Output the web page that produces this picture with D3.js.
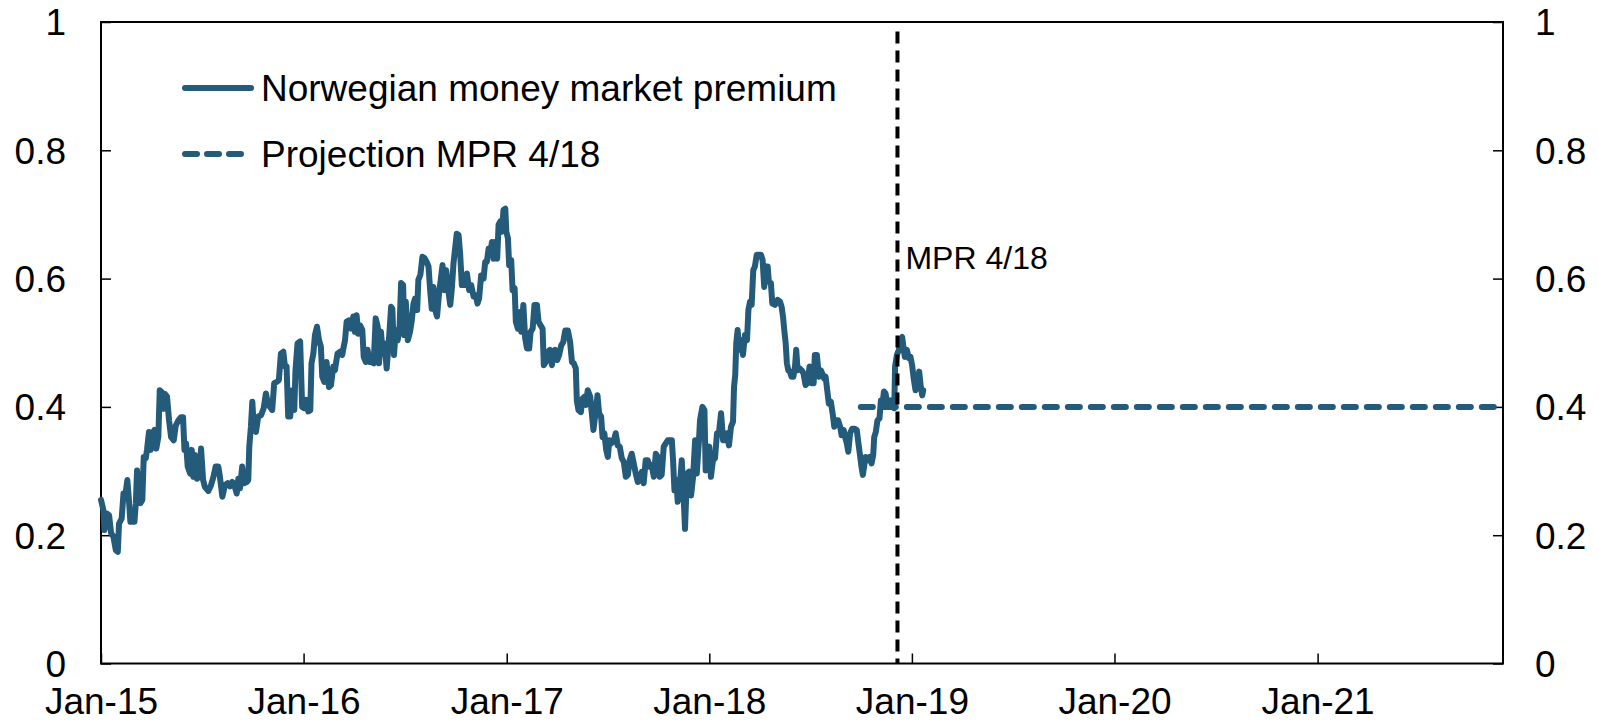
<!DOCTYPE html>
<html>
<head>
<meta charset="utf-8">
<script src="https://cdn.jsdelivr.net/npm/d3@7"></script>
<style>
  html, body { margin: 0; padding: 0; background: #fff; }
  svg { display: block; font-family: "Liberation Sans", Arial, sans-serif; }
</style>
</head>
<body>
<svg id="chart"></svg>
<script>
// Norwegian money market premium as [decimal year, value]
const premium = [
  [2015.000,.255],[2015.012,.239],[2015.017,.208],[2015.028,.234],[2015.040,.231],[2015.050,.203],[2015.061,.198],[2015.073,.177],[2015.083,.174],[2015.089,.218],
  [2015.102,.226],[2015.111,.265],[2015.119,.260],[2015.130,.286],[2015.139,.250],[2015.145,.221],[2015.155,.221],[2015.165,.221],[2015.172,.250],[2015.178,.301],
  [2015.188,.260],[2015.195,.250],[2015.204,.255],[2015.211,.322],[2015.221,.320],[2015.227,.333],[2015.237,.361],[2015.245,.333],[2015.254,.358],[2015.264,.364],
  [2015.273,.335],[2015.283,.353],[2015.290,.426],[2015.300,.423],[2015.308,.397],[2015.316,.420],[2015.326,.416],[2015.336,.379],[2015.346,.353],[2015.359,.348],
  [2015.369,.371],[2015.382,.379],[2015.395,.384],[2015.405,.384],[2015.412,.333],[2015.420,.343],[2015.428,.307],[2015.440,.296],[2015.448,.333],[2015.456,.291],
  [2015.464,.325],[2015.474,.288],[2015.484,.291],[2015.494,.335],[2015.504,.286],[2015.513,.275],[2015.530,.269],[2015.543,.278],[2015.555,.291],[2015.566,.307],
  [2015.579,.307],[2015.587,.291],[2015.599,.260],[2015.612,.278],[2015.625,.281],[2015.637,.276],[2015.648,.283],[2015.658,.278],[2015.670,.265],[2015.678,.288],
  [2015.686,.273],[2015.697,.307],[2015.706,.281],[2015.719,.283],[2015.727,.286],[2015.732,.338],[2015.740,.369],[2015.747,.408],[2015.755,.364],[2015.765,.361],
  [2015.776,.385],[2015.790,.387],[2015.803,.398],[2015.814,.421],[2015.822,.408],[2015.834,.400],[2015.845,.395],[2015.855,.437],[2015.868,.439],[2015.878,.442],
  [2015.888,.483],[2015.900,.486],[2015.908,.463],[2015.916,.463],[2015.924,.385],[2015.934,.385],[2015.944,.426],[2015.954,.395],[2015.960,.457],[2015.970,.499],
  [2015.983,.502],[2015.993,.400],[2016.003,.398],[2016.013,.411],[2016.023,.393],[2016.033,.395],[2016.039,.468],[2016.048,.483],[2016.056,.512],[2016.066,.525],
  [2016.076,.504],[2016.085,.494],[2016.092,.447],[2016.102,.439],[2016.113,.470],[2016.125,.431],[2016.135,.434],[2016.146,.463],[2016.154,.457],
  [2016.167,.483],[2016.179,.486],[2016.190,.481],[2016.204,.504],[2016.212,.533],[2016.223,.535],[2016.233,.522],[2016.245,.541],[2016.253,.517],[2016.261,.543],
  [2016.269,.514],[2016.278,.527],[2016.289,.520],[2016.296,.478],[2016.306,.470],[2016.315,.489],[2016.324,.470],[2016.335,.470],[2016.345,.468],[2016.355,.538],
  [2016.365,.525],[2016.371,.468],[2016.381,.517],[2016.389,.483],[2016.398,.499],[2016.409,.460],[2016.421,.509],[2016.431,.556],[2016.437,.553],[2016.445,.481],
  [2016.454,.520],[2016.463,.504],[2016.472,.520],[2016.480,.593],[2016.490,.590],[2016.496,.512],[2016.503,.564],[2016.513,.504],[2016.524,.517],[2016.532,.533],
  [2016.541,.561],[2016.549,.569],[2016.559,.551],[2016.565,.598],[2016.575,.606],[2016.585,.634],[2016.595,.632],[2016.606,.626],[2016.615,.619],[2016.623,.582],
  [2016.631,.553],[2016.639,.587],[2016.648,.551],[2016.657,.541],[2016.667,.577],[2016.677,.603],[2016.684,.621],[2016.694,.582],[2016.702,.613],[2016.710,.587],
  [2016.722,.559],[2016.730,.585],[2016.738,.624],
  [2016.754,.670],[2016.763,.668],[2016.771,.637],[2016.779,.590],[2016.787,.605],[2016.795,.590],[2016.804,.608],[2016.815,.582],[2016.825,.590],[2016.837,.572],
  [2016.848,.574],[2016.856,.561],[2016.864,.569],[2016.874,.605],[2016.886,.600],[2016.894,.626],[2016.902,.626],[2016.911,.647],[2016.919,.637],[2016.927,.657],
  [2016.935,.631],[2016.943,.657],[2016.953,.631],[2016.960,.684],[2016.968,.689],[2016.976,.673],[2016.984,.707],[2016.993,.709],[2016.998,.673],[2017.006,.663],
  [2017.012,.621],[2017.022,.629],[2017.029,.582],[2017.039,.585],[2017.045,.533],[2017.055,.522],[2017.065,.548],[2017.072,.517],[2017.082,.559],[2017.091,.507],
  [2017.100,.491],[2017.111,.491],[2017.118,.517],[2017.128,.522],[2017.137,.559],[2017.149,.559],[2017.157,.533],[2017.167,.527],[2017.177,.522],[2017.183,.465],
  [2017.193,.470],[2017.203,.486],[2017.213,.489],[2017.223,.465],[2017.231,.486],[2017.239,.489],[2017.249,.473],[2017.259,.481],[2017.269,.496],[2017.279,.501],
  [2017.289,.519],[2017.302,.519],[2017.313,.501],[2017.322,.470],[2017.331,.468],[2017.341,.460],
  [2017.346,.410],[2017.354,.395],[2017.366,.392],[2017.374,.413],[2017.384,.416],[2017.390,.403],[2017.400,.426],[2017.412,.416],[2017.420,.390],[2017.428,.364],
  [2017.440,.395],[2017.448,.418],[2017.456,.390],[2017.466,.385],[2017.473,.353],[2017.482,.359],[2017.491,.333],[2017.499,.322],[2017.507,.348],[2017.515,.343],
  [2017.527,.346],[2017.538,.359],[2017.548,.340],[2017.558,.338],[2017.568,.320],[2017.578,.314],[2017.588,.291],[2017.598,.294],[2017.607,.317],[2017.617,.327],
  [2017.627,.312],[2017.637,.296],[2017.647,.283],[2017.657,.286],[2017.667,.299],[2017.676,.281],[2017.686,.317],[2017.696,.317],[2017.706,.307],[2017.716,.309],
  [2017.726,.291],[2017.736,.327],[2017.746,.322],[2017.755,.291],[2017.765,.294],[2017.775,.338],[2017.785,.343],[2017.795,.348],[2017.805,.348],[2017.815,.348],
  [2017.821,.317],[2017.828,.270],[2017.838,.286],[2017.844,.252],[2017.854,.275],[2017.864,.317],[2017.872,.270],[2017.880,.210],[2017.890,.296],[2017.900,.299],
  [2017.910,.262],[2017.920,.291],[2017.930,.348],
  [2017.938,.296],[2017.949,.348],[2017.954,.379],[2017.966,.400],[2017.976,.395],[2017.982,.301],[2017.992,.327],[2018.000,.338],[2018.008,.291],[2018.018,.317],
  [2018.028,.320],[2018.038,.359],[2018.048,.361],[2018.058,.390],[2018.068,.348],[2018.077,.348],[2018.087,.359],[2018.097,.340],[2018.107,.369],[2018.117,.377],
  [2018.122,.431],[2018.128,.450],[2018.133,.499],[2018.140,.520],[2018.146,.489],[2018.156,.504],[2018.166,.481],[2018.176,.512],[2018.186,.504],[2018.193,.551],
  [2018.201,.564],[2018.209,.559],[2018.217,.613],[2018.225,.619],[2018.234,.637],[2018.245,.637],[2018.255,.637],[2018.263,.629],[2018.271,.587],[2018.280,.619],
  [2018.288,.619],[2018.294,.595],[2018.304,.593],[2018.311,.561],[2018.324,.559],[2018.337,.567],[2018.349,.564],[2018.357,.556],[2018.364,.540],[2018.370,.520],
  [2018.377,.499],[2018.383,.468],[2018.390,.457],[2018.398,.455],[2018.406,.447],[2018.415,.447],[2018.423,.463],[2018.429,.489],[2018.436,.457],[2018.446,.460],
  [2018.456,.457],[2018.465,.452],[2018.475,.434],[2018.485,.437],[2018.495,.463],[2018.505,.437],[2018.515,.437],[2018.521,.481],[2018.531,.481],[2018.541,.447],
  [2018.551,.457],[2018.561,.449],[2018.567,.444],[2018.574,.447],[2018.582,.426],[2018.590,.405],[2018.600,.408],[2018.610,.387],[2018.617,.369],[2018.626,.379],
  [2018.636,.379],[2018.646,.369],[2018.653,.356],[2018.663,.364],[2018.672,.351],[2018.679,.343],[2018.686,.330],[2018.695,.359],[2018.705,.366],[2018.718,.366],
  [2018.728,.364],[2018.735,.346],[2018.745,.322],[2018.751,.307],[2018.758,.294],[2018.765,.309],[2018.771,.322],[2018.781,.317],[2018.791,.322],[2018.801,.312],
  [2018.809,.325],[2018.814,.353],[2018.822,.361],[2018.830,.379],[2018.840,.382],[2018.847,.410],[2018.853,.400],[2018.862,.424],[2018.870,.421],[2018.876,.410],
  [2018.886,.403],[2018.896,.410],[2018.906,.403],[2018.913,.398],[2018.917,.463],[2018.926,.481],[2018.936,.489],[2018.942,.504],[2018.952,.509],[2018.959,.491],
  [2018.965,.478],[2018.975,.489],[2018.985,.476],[2018.993,.478],[2019.001,.465],[2019.009,.444],[2019.018,.426],[2019.028,.431],[2019.036,.455],[2019.044,.431],
  [2019.051,.418],[2019.056,.426]
];

// Projection MPR 4/18
const projectionDates = ["2018-10-01", "2021-12-01"];
const projectionValues = [0.4, 0.4];

// vertical marker for MPR 4/18
const mprDate = "2018-12-06";
const mprLineValues = [0, 0.985];
const mprLabel = "MPR 4/18";
const mprLabelValue = 0.632;

const xDomain = ["2015-01-01", "2021-12-01"];
const xTickDates = ["2015-01-01", "2016-01-01", "2017-01-01", "2018-01-01", "2019-01-01", "2020-01-01", "2021-01-01"];
const xTickLabels = ["Jan-15", "Jan-16", "Jan-17", "Jan-18", "Jan-19", "Jan-20", "Jan-21"];
const yTicks = [0, 0.2, 0.4, 0.6, 0.8, 1];
const yTickLabels = ["0", "0.2", "0.4", "0.6", "0.8", "1"];

const legendItems = ["Norwegian money market premium", "Projection MPR 4/18"];

const blue = "#245a7a";

// decimal year -> Date (UTC)
function yearToDate(t) {
    const y = Math.floor(t);
    const a = Date.UTC(y, 0, 1), b = Date.UTC(y + 1, 0, 1);
    return new Date(a + (t - y) * (b - a));
}

const width = 1598, height = 726;
const margin = {top: 22, right: 95, bottom: 62.5, left: 101};
const innerWidth = width - margin.left - margin.right;
const innerHeight = height - margin.top - margin.bottom;

const svg = d3.select('#chart')
    .attr('width', width)
    .attr('height', height);

const g = svg.append('g')
    .attr('transform', `translate(${margin.left},${margin.top})`);

const x = d3.scaleUtc()
    .domain(xDomain.map(d => new Date(d)))
    .range([0, innerWidth]);

const y = d3.scaleLinear()
    .domain([0, 1])
    .range([innerHeight, 0]);

// axes
const fmtX = d => xTickLabels[xTickDates.findIndex(s => +new Date(s) === +d)];
const fmtY = d => yTickLabels[yTicks.indexOf(d)];

const xAxis = g.append('g')
    .attr('transform', `translate(0,${innerHeight})`)
    .call(d3.axisBottom(x)
        .tickValues(xTickDates.map(d => new Date(d)))
        .tickFormat(fmtX)
        .tickSizeInner(-10).tickSizeOuter(0).tickPadding(24));

const yLeft = g.append('g')
    .call(d3.axisLeft(y).tickValues(yTicks).tickFormat(fmtY)
        .tickSizeInner(-10).tickSizeOuter(0).tickPadding(35));

const yRight = g.append('g')
    .attr('transform', `translate(${innerWidth},0)`)
    .call(d3.axisRight(y).tickValues(yTicks).tickFormat(fmtY)
        .tickSizeInner(-10).tickSizeOuter(0).tickPadding(32));

[xAxis, yLeft, yRight].forEach(a => {
    a.select('.domain').remove();
    a.selectAll('line').attr('stroke', '#000').attr('stroke-width', 1.5);
    a.selectAll('text')
        .attr('fill', '#000')
        .style('font-size', '37px')
        .style('font-family', '"Liberation Sans", Arial, sans-serif');
});
yLeft.selectAll('text').attr('dy', '0.35em');
yRight.selectAll('text').attr('dy', '0.35em');

// frame
g.append('rect')
    .attr('x', 0).attr('y', 0)
    .attr('width', innerWidth).attr('height', innerHeight)
    .attr('fill', 'none')
    .attr('stroke', '#000')
    .attr('stroke-width', 2);

// series
const line = d3.line()
    .x(d => x(yearToDate(d[0])))
    .y(d => y(d[1]));

g.append('path')
    .datum(premium)
    .attr('d', line)
    .attr('fill', 'none')
    .attr('stroke', blue)
    .attr('stroke-width', 6)
    .attr('stroke-linejoin', 'round')
    .attr('stroke-linecap', 'round');

const projLine = d3.line()
    .x(d => x(new Date(d[0])))
    .y(d => y(d[1]));

g.append('path')
    .datum(projectionDates.map((d, i) => [d, projectionValues[i]]))
    .attr('d', projLine)
    .attr('fill', 'none')
    .attr('stroke', blue)
    .attr('stroke-width', 6)
    .attr('stroke-linecap', 'round')
    .attr('stroke-dasharray', '12,11');

// MPR 4/18 vertical marker
g.append('line')
    .attr('x1', x(new Date(mprDate))).attr('x2', x(new Date(mprDate)))
    .attr('y1', y(mprLineValues[1])).attr('y2', y(mprLineValues[0]))
    .attr('stroke', '#000')
    .attr('stroke-width', 4)
    .attr('stroke-dasharray', '12,7');

g.append('text')
    .attr('x', x(new Date(mprDate)) + 8)
    .attr('y', y(mprLabelValue))
    .attr('dy', '0.35em')
    .style('font-size', '32px')
    .text(mprLabel);

// legend
const legend = svg.append('g')
    .attr('transform', 'translate(183,88)');

legendItems.forEach((name, i) => {
    const row = legend.append('g').attr('transform', `translate(0,${i * 66})`);
    row.append('line')
        .attr('x1', 2).attr('x2', 68)
        .attr('y1', 0).attr('y2', 0)
        .attr('stroke', blue)
        .attr('stroke-width', 6)
        .attr('stroke-linecap', 'round')
        .attr('stroke-dasharray', i === 1 ? '12,10' : null);
    row.append('text')
        .attr('x', 78)
        .attr('y', 0)
        .attr('dy', '0.35em')
        .style('font-size', '37px')
        .text(name);
});
</script>
</body>
</html>
